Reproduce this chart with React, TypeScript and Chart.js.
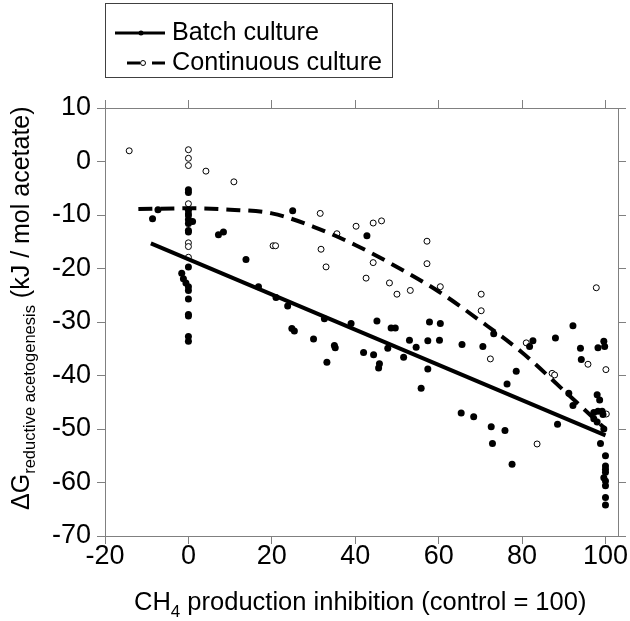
import React, { useEffect, useRef } from 'react';
import { Chart, registerables } from 'chart.js';

Chart.register(...registerables);

const FONT = '"Liberation Sans", Arial, Helvetica, sans-serif';

const xTicks = [-20, 0, 20, 40, 60, 80, 100];
const yTicks = [10, 0, -10, -20, -30, -40, -50, -60, -70];

const batchX = [
  -8.6, -7.3, 0, 0, 0, 0, 0, 1.0, 0, 0, 0, 0, -1.6, -1.2, -0.6, 0, 0, 0, 0, 0, 0, 0,
  7.2, 8.4, 13.8, 25.0, 16.8, 21.0, 23.8, 24.8, 25.4, 30.0, 32.6, 33.2, 35.0, 35.2, 39.0, 42.0, 44.4, 45.2, 42.8,
  48.6, 49.6, 57.8, 60.4, 53.0, 57.4, 60.2, 54.6, 47.8, 51.6, 45.8, 45.6, 57.4, 55.8,
  65.6, 70.6, 73.2, 78.6, 76.4, 81.8, 82.6, 88.0,
  65.4, 68.4, 72.6, 75.9, 72.9, 77.6, 88.5,
  92.2, 94.0, 94.2, 98.2, 99.6, 99.8, 91.2, 92.2, 98.0, 98.6, 97.2, 98.2, 99.2, 99.4, 97.2, 98.0, 99.6, 98.8,
  100, 100, 100, 100, 99.6, 100, 100, 100, 100,
];
const batchY = [
  -10.7, -9.0, -5.3, -5.8, -9.1, -9.8, -10.9, -11.2, -11.6, -12.9, -13.2, -19.7, -20.9, -21.9, -22.7, -23.4, -24.1, -25.7, -28.6, -28.9, -32.7, -33.6,
  -13.7, -13.2, -18.3, -9.2, -23.4, -25.4, -27.0, -31.2, -31.7, -33.2, -29.4, -37.5, -34.4, -34.8, -30.3, -35.7, -36.1, -29.8, -13.9,
  -31.1, -31.1, -30.0, -30.3, -33.4, -33.5, -33.4, -34.7, -34.9, -36.6, -37.8, -38.6, -38.8, -42.4,
  -34.2, -34.6, -32.2, -39.2, -41.6, -34.6, -33.5, -33.0,
  -47.0, -47.7, -49.6, -50.3, -52.7, -56.6, -49.1,
  -30.7, -34.9, -37.0, -34.8, -33.6, -34.6, -43.3, -45.6, -43.6, -44.6, -46.9, -46.7, -46.7, -47.3, -48.1, -48.7, -50.0, -52.7,
  -55.0, -56.9, -57.5, -58.1, -59.1, -59.7, -60.6, -62.8, -64.2,
];

const contX = [
  -14.2, 0, 0, 0, 4.2, 10.9, 0, 0, 0, 0, 0, 20.3, 20.9, 31.6, 35.6, 31.8, 33.0, 40.2, 44.3, 46.3,
  44.3, 42.6, 57.2, 57.2, 48.2, 53.2, 50.0, 60.4, 70.2, 70.2, 97.8, 72.4, 81.0, 87.2, 87.8, 95.8,
  100.1, 100.2, 83.6,
];
const contY = [
  2.0, 2.2, 0.6, -0.75, -1.8, -3.8, -7.9, -10.2, -15.2, -15.9, -17.9, -15.75, -15.75, -9.7, -13.5, -16.4, -19.7, -12.1, -11.5, -11.1,
  -18.9, -21.8, -14.9, -19.1, -22.7, -24.1, -24.8, -23.4, -24.8, -27.9, -23.6, -36.9, -33.9, -39.6, -39.9, -37.9,
  -38.9, -47.2, -52.8,
];

const batchFitX = [-9, 100];
const batchFitY = [-15.3, -51.2];

const contFitX = [-12, 0, 10, 20, 30, 40, 50, 60, 70, 80, 90, 100];
const contFitY = [-8.9, -8.75, -9.0, -9.7, -12.2, -15.6, -19.7, -24.3, -29.8, -35.7, -42.8, -50.0];

const toPts = (xs: number[], ys: number[]) => xs.map((x, i) => ({ x, y: ys[i] }));

const AXIS_COLOR = '#808080';

const overlay = {
  id: 'overlay',
  afterDraw(chart: any) {
    const ctx = chart.ctx as CanvasRenderingContext2D;
    ctx.save();
    // Legend box
    ctx.strokeStyle = '#404040';
    ctx.lineWidth = 1;
    ctx.strokeRect(105.5, 3.5, 287, 74);
    // Batch item
    ctx.strokeStyle = '#000';
    ctx.lineWidth = 3;
    ctx.setLineDash([]);
    ctx.beginPath();
    ctx.moveTo(115, 33);
    ctx.lineTo(165, 33);
    ctx.stroke();
    ctx.fillStyle = '#000';
    ctx.beginPath();
    ctx.arc(141, 33, 2.5, 0, Math.PI * 2);
    ctx.fill();
    // Continuous item
    ctx.beginPath();
    ctx.moveTo(127, 63);
    ctx.lineTo(140, 63);
    ctx.moveTo(152, 63);
    ctx.lineTo(165, 63);
    ctx.stroke();
    ctx.lineWidth = 1;
    ctx.fillStyle = '#fff';
    ctx.beginPath();
    ctx.arc(143, 63, 2.5, 0, Math.PI * 2);
    ctx.fill();
    ctx.stroke();

    ctx.fillStyle = '#000';
    ctx.textBaseline = 'middle';
    ctx.textAlign = 'left';
    ctx.font = `25.2px ${FONT}`;
    ctx.fillText('Batch culture', 172, 33);
    ctx.fillText('Continuous culture', 172, 63);

    // X title
    ctx.textBaseline = 'alphabetic';
    let x = 134;
    const xb = 610;
    ctx.font = `25.5px ${FONT}`;
    ctx.fillText('CH', x, xb);
    x += ctx.measureText('CH').width;
    ctx.font = `17px ${FONT}`;
    ctx.fillText('4', x, xb + 7);
    x += ctx.measureText('4').width;
    ctx.font = `25.5px ${FONT}`;
    ctx.fillText(' production inhibition (control = 100)', x, xb);

    // Y title
    ctx.translate(29, 510);
    ctx.rotate(-Math.PI / 2);
    let y = 0;
    ctx.font = `25px ${FONT}`;
    ctx.fillText('\u0394G', y, 0);
    y += ctx.measureText('\u0394G').width;
    ctx.font = `16.5px ${FONT}`;
    ctx.fillText('reductive acetogenesis', y, 6);
    y += ctx.measureText('reductive acetogenesis').width;
    ctx.font = `25px ${FONT}`;
    ctx.fillText(' (kJ / mol acetate)', y, 0);
    ctx.restore();
  },
};

function axis(position: string, size: number, labels: boolean, tickVals: number[], min: number, max: number, pad: number) {
  return {
    type: 'linear',
    position,
    min,
    max,
    afterBuildTicks: (scale: any) => {
      scale.ticks = tickVals.map((value) => ({ value }));
    },
    afterFit: (scale: any) => {
      if (position === 'left' || position === 'right') scale.width = size;
      else scale.height = size;
    },
    ticks: {
      display: labels,
      color: '#000',
      font: { family: FONT, size: 27 },
      padding: pad,
      maxRotation: 0,
      autoSkip: false,
    },
    grid: {
      drawOnChartArea: false,
      drawTicks: true,
      tickLength: 8,
      color: AXIS_COLOR,
      lineWidth: 1,
    },
    border: { display: true, color: AXIS_COLOR, width: 1 },
    title: { display: false },
  };
}

export default function App() {
  const ref = useRef<HTMLCanvasElement | null>(null);
  useEffect(() => {
    document.body.style.margin = '0';
    if (!ref.current) return;
    const chart = new Chart(ref.current, {
      type: 'scatter',
      data: {
        datasets: [
          {
            type: 'line',
            label: 'Batch fit',
            data: toPts(batchFitX, batchFitY),
            borderColor: '#000',
            borderWidth: 4,
            pointRadius: 0,
            fill: false,
            order: 0,
          } as any,
          {
            type: 'line',
            label: 'Continuous fit',
            data: toPts(contFitX, contFitY),
            borderColor: '#000',
            borderWidth: 4,
            borderDash: [14, 8],
            pointRadius: 0,
            fill: false,
            cubicInterpolationMode: 'monotone',
            order: 0,
          } as any,
          {
            label: 'Batch culture',
            data: toPts(batchX, batchY),
            backgroundColor: '#000',
            borderColor: '#000',
            borderWidth: 0,
            pointRadius: 3.5,
            order: 1,
          },
          {
            label: 'Continuous culture',
            data: toPts(contX, contY),
            backgroundColor: '#fff',
            borderColor: '#000',
            borderWidth: 1,
            pointRadius: 3,
            order: 1,
          },
        ],
      },
      options: {
        animation: false,
        responsive: false,
        maintainAspectRatio: false,
        layout: { padding: 0 },
        plugins: {
          legend: { display: false },
          tooltip: { enabled: false },
        },
        scales: {
          x: axis('bottom', 85, true, xTicks, -20, 103, -4),
          x2: axis('top', 108, false, xTicks, -20, 103, 0),
          y: axis('left', 105, true, yTicks, -70, 10, 6),
          y2: axis('right', 12, false, yTicks, -70, 10, 0),
        } as any,
      },
      plugins: [overlay],
    });
    return () => chart.destroy();
  }, []);
  return (
    <div style={{ width: 630, height: 621, background: '#fff' }}>
      <canvas ref={ref} width={630} height={621} style={{ display: 'block' }} />
    </div>
  );
}
